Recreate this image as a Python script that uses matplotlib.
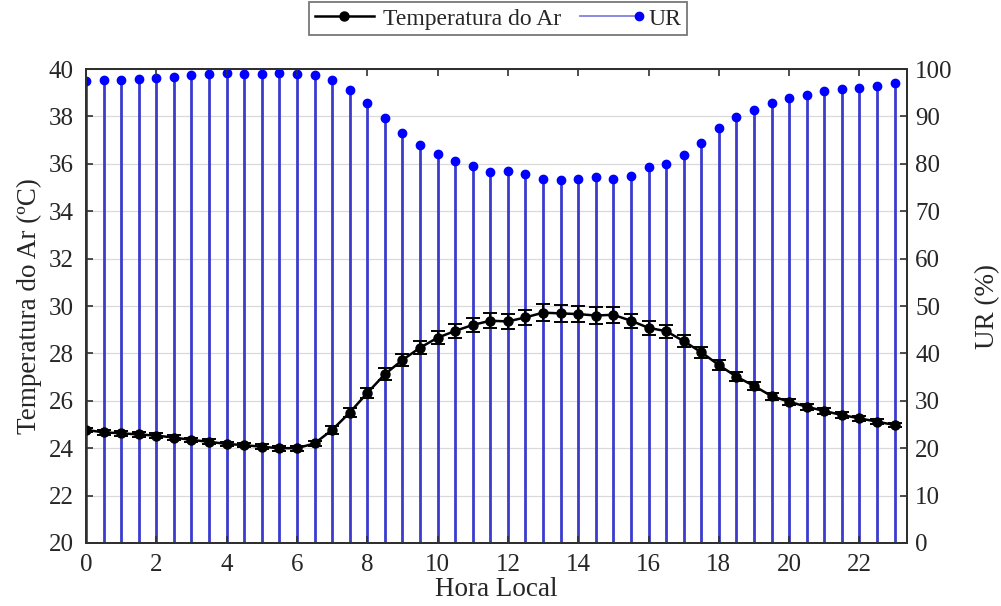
import matplotlib
matplotlib.use("Agg")
import matplotlib.pyplot as plt
from matplotlib.lines import Line2D
from matplotlib.legend_handler import HandlerBase

# Half-hourly local time
hours = [0.0, 0.5, 1.0, 1.5, 2.0, 2.5, 3.0, 3.5, 4.0, 4.5, 5.0, 5.5, 6.0, 6.5,
         7.0, 7.5, 8.0, 8.5, 9.0, 9.5, 10.0, 10.5, 11.0, 11.5, 12.0, 12.5,
         13.0, 13.5, 14.0, 14.5, 15.0, 15.5, 16.0, 16.5, 17.0, 17.5, 18.0,
         18.5, 19.0, 19.5, 20.0, 20.5, 21.0, 21.5, 22.0, 22.5, 23.0]

# Mean air temperature (°C) and its spread
temp = [24.77, 24.67, 24.63, 24.58, 24.53, 24.45, 24.35, 24.27, 24.18, 24.13,
        24.06, 24.00, 24.00, 24.20, 24.77, 25.50, 26.33, 27.12, 27.72, 28.24,
        28.66, 28.95, 29.20, 29.38, 29.35, 29.52, 29.72, 29.69, 29.66, 29.60,
        29.63, 29.38, 29.08, 28.94, 28.52, 28.05, 27.51, 27.02, 26.63, 26.20,
        25.96, 25.75, 25.57, 25.40, 25.26, 25.12, 24.98]
temp_err = [0.10, 0.10, 0.10, 0.10, 0.10, 0.10, 0.10, 0.10, 0.10, 0.10,
            0.10, 0.10, 0.10, 0.12, 0.15, 0.18, 0.22, 0.25, 0.25, 0.27,
            0.28, 0.30, 0.30, 0.32, 0.32, 0.33, 0.35, 0.35, 0.35, 0.35,
            0.33, 0.30, 0.30, 0.28, 0.26, 0.24, 0.22, 0.20, 0.18, 0.15,
            0.13, 0.12, 0.12, 0.11, 0.11, 0.10, 0.10]

# Relative humidity (%)
ur = [97.4, 97.7, 97.8, 98.0, 98.2, 98.4, 98.7, 98.9, 99.1, 99.0, 99.0, 99.1,
      99.0, 98.8, 97.6, 95.6, 92.8, 89.6, 86.6, 84.0, 82.0, 80.6, 79.5, 78.3,
      78.4, 77.8, 76.9, 76.7, 76.9, 77.2, 76.8, 77.5, 79.3, 79.9, 81.9, 84.5,
      87.5, 89.9, 91.4, 92.9, 93.9, 94.6, 95.3, 95.7, 96.1, 96.5, 97.0]

x_ticks = [0, 2, 4, 6, 8, 10, 12, 14, 16, 18, 20, 22]
t_ticks = [20, 22, 24, 26, 28, 30, 32, 34, 36, 38, 40]
ur_ticks = [0, 10, 20, 30, 40, 50, 60, 70, 80, 90, 100]

plt.rcParams['font.family'] = ['Liberation Serif', 'DejaVu Serif']
plt.rcParams['font.size'] = 18

TICK_FS = 18
LABEL_FS = 19.5
LEGEND_FS = 17
STEM_COLOR = '#3b3bcf'
DOT_COLOR = '#0000ff'
SPINE_COLOR = '#303030'
TEXT_COLOR = '#262626'

fig = plt.figure(figsize=(10.01, 6.06), dpi=100)
ax = fig.add_axes([0.0859, 0.104, 0.906 - 0.0859, 0.886 - 0.104])
ax2 = ax.twinx()

# Humidity as stems on the right axis (drawn underneath)
markerline, stemlines, baseline = ax2.stem(hours, ur, bottom=0, basefmt=' ')
stemlines.set_color(STEM_COLOR)
stemlines.set_linewidth(2.0)
markerline.set_color(DOT_COLOR)
markerline.set_markersize(6)
ax2.set_ylim(0, 100)
ax2.set_yticks(ur_ticks)
ax2.grid(True, color='#d9d9d9', lw=0.9)
ax2.set_axisbelow(True)
ax2.set_ylabel('UR (%)', labelpad=16, fontsize=LABEL_FS, color=TEXT_COLOR)

# Temperature with error bars on the left axis (drawn on top)
ax.set_zorder(ax2.get_zorder() + 1)
ax.patch.set_visible(False)
ax.errorbar(hours, temp, yerr=temp_err, fmt='-o', color='black', lw=1.8,
            ms=6.5, elinewidth=1.4, capsize=5, capthick=1.4)
ax.set_xlim(0, 23.35)
ax.set_ylim(20, 40)
ax.set_xticks(x_ticks)
ax.set_yticks(t_ticks)
ax.set_xlabel('Hora Local', labelpad=1, fontsize=LABEL_FS, color=TEXT_COLOR)
ax.set_ylabel('Temperatura do Ar (ºC)', labelpad=5, fontsize=LABEL_FS,
              color=TEXT_COLOR)

ax.tick_params(axis='x', direction='in', top=True, length=5, width=1.2,
               pad=8, colors=SPINE_COLOR, labelcolor=TEXT_COLOR,
               labelsize=TICK_FS)
ax.tick_params(axis='y', direction='in', left=True, right=False, length=5,
               width=1.2, pad=9, colors=SPINE_COLOR, labelcolor=TEXT_COLOR,
               labelsize=TICK_FS)
ax2.tick_params(axis='y', direction='in', right=True, length=5, width=1.2,
                pad=6, colors=SPINE_COLOR, labelcolor=TEXT_COLOR,
                labelsize=TICK_FS)
ax2.tick_params(axis='x', which='both', bottom=False, top=False)
for a in (ax, ax2):
    for s in a.spines.values():
        s.set_color(SPINE_COLOR)
        s.set_linewidth(1.4)


class StemLegendHandler(HandlerBase):
    def create_artists(self, legend, orig_handle, xdescent, ydescent,
                       width, height, fontsize, trans):
        y = height / 2.0 - ydescent
        line = Line2D([-xdescent, width - xdescent], [y, y],
                      color='#8080e0', lw=1.3, transform=trans)
        dot = Line2D([width - xdescent], [y], marker='o', ms=6,
                     color=DOT_COLOR, ls='none', transform=trans)
        return [line, dot]


temp_handle = Line2D([], [], color='black', lw=1.8, marker='o', ms=6.5)
ur_handle = object()
leg = fig.legend([temp_handle, ur_handle], ['Temperatura do Ar', 'UR'],
                 handler_map={ur_handle: StemLegendHandler()},
                 loc='center', bbox_to_anchor=(0.4975, 0.969), ncol=2,
                 frameon=True, fancybox=False, edgecolor='#555555',
                 handlelength=2.5, columnspacing=0.8, handletextpad=0.4,
                 borderpad=0.25, fontsize=LEGEND_FS)
for t in leg.get_texts():
    t.set_color(TEXT_COLOR)
leg.get_frame().set_linewidth(1.3)

fig.savefig('out.png', dpi=100)
